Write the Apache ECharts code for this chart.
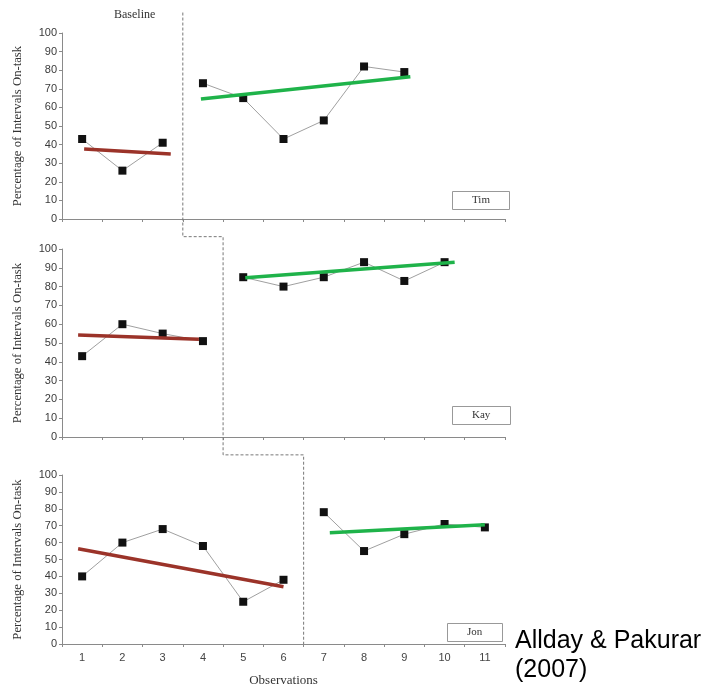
<!DOCTYPE html>
<html><head><meta charset="utf-8">
<script src="https://cdn.jsdelivr.net/npm/echarts@6/dist/echarts.min.js"></script>
<style>html,body{margin:0;padding:0;background:#fff}#c{width:705px;height:688px}</style>
</head><body><div id="c"></div>
<script>
// ---- data ----
const observations = [1,2,3,4,5,6,7,8,9,10,11];
const tickBoundaries = [0.5,1.5,2.5,3.5,4.5,5.5,6.5,7.5,8.5,9.5,10.5,11.5];
const students = ['Tim','Kay','Jon'];
const timBaseline = [43,26,41];            // obs 1-3
const timIntervention = [73,65,43,53,82,79]; // obs 4-9
const kayBaseline = [43,60,55,51];          // obs 1-4
const kayIntervention = [85,80,85,93,83,93]; // obs 5-10
const jonBaseline = [40,60,68,58,25,38];    // obs 1-6
const jonIntervention = [78,55,65,71,69];   // obs 7-11
const timBaselineTrend = [[1.05,37.6],[3.2,35]];
const timInterventionTrend = [[3.95,64.5],[9.15,76.5]];
const kayBaselineTrend = [[0.9,54.3],[3.9,52]];
const kayInterventionTrend = [[5.05,84.7],[10.25,92.9]];
const jonBaselineTrend = [[0.9,56.4],[6.0,33.9]];
const jonInterventionTrend = [[7.15,65.9],[11.0,70.6]];
const phaseChangeX = [3.5,4.5,6.5];
const connectorTopValue = 111;
const connectorDropValue = -9.5;

const baselines = [timBaseline,kayBaseline,jonBaseline];
const interventions = [timIntervention,kayIntervention,jonIntervention];
const baseTrends = [timBaselineTrend,kayBaselineTrend,jonBaselineTrend];
const intTrends = [timInterventionTrend,kayInterventionTrend,jonInterventionTrend];

function pairs(values, startObs){ return values.map((v,i)=>[observations[startObs-1+i], v]); }

const grids = [
  {left:62, right:200, top:33, height:186},
  {left:62, right:200, top:249, height:188},
  {left:62, right:200, top:475, height:169}
];
const axisCol = '#8a8a8a';
const xAxes = grids.map((g,i)=>({
  type:'value', gridIndex:i, min:0.5, max:11.5,
  axisLine:{show:true, lineStyle:{color:axisCol}},
  axisTick:{show:true, customValues:tickBoundaries, length:3, lineStyle:{color:axisCol}},
  axisLabel:{show:i===2, customValues:observations, color:'#444', fontFamily:'Liberation Sans', fontSize:11, margin:8},
  splitLine:{show:false},
  name: i===2 ? 'Observations' : '',
  nameLocation:'middle', nameGap:30,
  nameTextStyle:{fontFamily:'Liberation Serif', fontSize:13, color:'#333'}
}));
const yAxes = grids.map((g,i)=>({
  type:'value', gridIndex:i, min:0, max:100, interval:10,
  axisLine:{show:true, lineStyle:{color:axisCol}},
  axisTick:{show:true, length:3, lineStyle:{color:axisCol}},
  axisLabel:{color:'#3a3a3a', fontFamily:'Liberation Sans', fontSize:11, margin:5},
  splitLine:{show:false},
  name:'Percentage of Intervals On-task', nameLocation:'middle', nameGap:38,
  nameTextStyle:{fontFamily:'Liberation Serif', fontSize:12.7, color:'#333'}
}));

const series = [];
for (let i=0;i<3;i++){
  const intStart = phaseChangeX[i] + 0.5;
  const dataStyle = {type:'line', xAxisIndex:i, yAxisIndex:i, symbol:'rect', symbolSize:8,
    itemStyle:{color:'#111'}, lineStyle:{color:'#a0a0a0', width:1}, z:3, animation:false};
  series.push(Object.assign({name:students[i]+' baseline', data:pairs(baselines[i],1)}, dataStyle));
  series.push(Object.assign({name:students[i]+' intervention', data:pairs(interventions[i],intStart)}, dataStyle));
  series.push({type:'line', xAxisIndex:i, yAxisIndex:i, data:baseTrends[i], symbol:'none',
    lineStyle:{color:'#9b3329', width:3.5}, z:4, animation:false});
  series.push({type:'line', xAxisIndex:i, yAxisIndex:i, data:intTrends[i], symbol:'none',
    lineStyle:{color:'#1fb34a', width:3.5}, z:4, animation:false});
}

const boxStyle = {borderColor:'#999', borderWidth:1, padding:[4,20,4,20],
  textStyle:{fontFamily:'Liberation Serif', fontSize:11, fontWeight:'normal', color:'#333'}};
const titles = [
  {text:'Baseline', left:109, top:4, textStyle:{fontFamily:'Liberation Serif', fontSize:12, fontWeight:'normal', color:'#333'}},
  Object.assign({text:students[0], left:452, top:191}, boxStyle),
  Object.assign({text:students[1], left:452, top:406}, boxStyle),
  Object.assign({text:students[2], left:447, top:623}, boxStyle),
  {text:'Allday & Pakurar\n(2007)', left:510, top:622,
   textStyle:{fontFamily:'Liberation Sans', fontSize:25, fontWeight:'normal', color:'#000', lineHeight:29}}
];

const chart = echarts.init(document.getElementById('c'));
chart.setOption({
  animation:false, backgroundColor:'#fff',
  title:titles, grid:grids, xAxis:xAxes, yAxis:yAxes, series:series
});

// phase-change connector drawn through the library's own scales
const P = (g, x, y) => chart.convertToPixel({gridIndex:g}, [x, y]);
const pts = [
  P(0, phaseChangeX[0], connectorTopValue),
  P(0, phaseChangeX[0], connectorDropValue),
  P(0, phaseChangeX[1], connectorDropValue),
  P(1, phaseChangeX[1], connectorDropValue),
  P(1, phaseChangeX[2], connectorDropValue),
  P(2, phaseChangeX[2], 0)
];
chart.setOption({graphic:[{type:'polyline', shape:{points:pts}, silent:true, z:1,
  style:{stroke:'#777', lineWidth:1, lineDash:[3,2], fill:null}}]});
</script></body></html>
